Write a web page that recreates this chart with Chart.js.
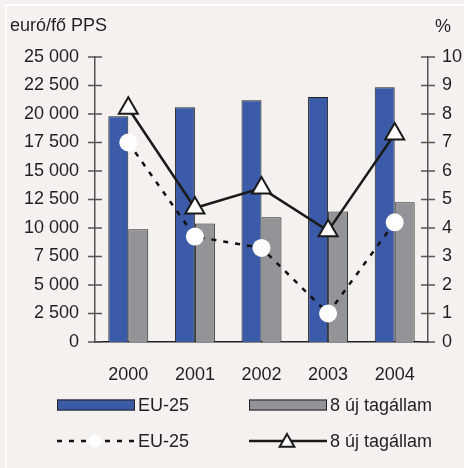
<!DOCTYPE html>
<html>
<head>
<meta charset="utf-8">
<script src="https://cdn.jsdelivr.net/npm/chart.js@4.4.1/dist/chart.umd.min.js"></script>
<style>
  html, body { margin: 0; padding: 0; background: #f4f1ee; }
  .frame { position: absolute; left: 0; top: 0; width: 464px; height: 468px; }
  .frame::before { content: ''; position: absolute; left: 5px; top: 4px; right: 0; bottom: 0;
    border-top: 2px solid #fff; border-left: 2px solid #fff; }
  canvas { position: absolute; left: 0; top: 0; }
</style>
</head>
<body>
<div class="frame"><canvas id="chart" width="464" height="468"></canvas></div>
<script>
// adatok
const years = ['2000', '2001', '2002', '2003', '2004'];
const eu25Pps = [19800, 20600, 21200, 21500, 22350];
const newMembersPps = [9900, 10400, 10950, 11450, 12250];
const eu25Pct = [7.0, 3.7, 3.3, 1.0, 4.2];
const newMembersPct = [8.2, 4.7, 5.4, 3.9, 7.3];
const seriesNames = ['EU-25', '8 új tagállam'];
const leftTitle = 'euró/fő PPS';
const rightTitle = '%';

const FONT = '"Liberation Sans", Arial, sans-serif';
const FSIZE = 18;
const TEXT = '#231f20';

function fmt(v) {
    return String(v).replace(/\B(?=(\d{3})+(?!\d))/g, ' ');
}

// tick jelek, amelyek keresztezik a tengelyt
const tickMarks = {
    id: 'tickMarks',
    beforeDatasetsDraw(chart) {
        const ctx = chart.ctx;
        ctx.save();
        ctx.strokeStyle = '#555';
        ctx.lineWidth = 1.5;
        ['y', 'y1'].forEach(id => {
            const s = chart.scales[id];
            const x = id === 'y' ? s.right : s.left;
            s.ticks.forEach(t => {
                const y = s.getPixelForValue(t.value);
                ctx.beginPath();
                ctx.moveTo(x - 7, y);
                ctx.lineTo(x + 7, y);
                ctx.stroke();
            });
        });
        ctx.restore();
    }
};

// tengelycímek + jelmagyarázat
const extras = {
    id: 'extras',
    afterDraw(chart) {
        const ctx = chart.ctx;
        ctx.save();
        ctx.font = FSIZE + 'px ' + FONT;
        ctx.fillStyle = TEXT;
        ctx.textBaseline = 'middle';
        ctx.textAlign = 'left';
        ctx.fillText(leftTitle, 10, 26);
        ctx.fillText(rightTitle, 435, 27);

        const cols = [57, 249];
        const rows = [405, 441];
        chart.data.datasets.forEach((ds, i) => {
            const x0 = cols[i % 2];
            const y = rows[Math.floor(i / 2)];
            const w = 78;
            if (ds.type === 'bar') {
                ctx.fillStyle = ds.backgroundColor;
                ctx.fillRect(x0, y - 5.5, w, 11);
                ctx.strokeStyle = ds.borderColor;
                ctx.lineWidth = 1;
                ctx.strokeRect(x0 + 0.5, y - 5, w - 1, 10);
            } else {
                ctx.strokeStyle = ds.borderColor;
                ctx.lineWidth = ds.borderWidth;
                ctx.setLineDash(ds.borderDash || []);
                ctx.beginPath();
                ctx.moveTo(x0, y);
                ctx.lineTo(x0 + w, y);
                ctx.stroke();
                ctx.setLineDash([]);
                ctx.fillStyle = ds.pointBackgroundColor;
                ctx.strokeStyle = ds.pointBorderColor;
                ctx.lineWidth = ds.pointBorderWidth;
                Chart.helpers.drawPoint(ctx, {
                    pointStyle: ds.pointStyle,
                    radius: ds.pointStyle === 'circle' ? 6.5 : 8.5,
                    borderWidth: ds.pointBorderWidth
                }, x0 + 38, ds.pointStyle === 'circle' ? y : y + 1.5);
            }
            ctx.fillStyle = TEXT;
            ctx.fillText(ds.label, x0 + 81, y + 1);
        });
        ctx.restore();
    }
};

new Chart(document.getElementById('chart').getContext('2d'), {
    data: {
        labels: years,
        datasets: [
            {
                type: 'bar',
                label: seriesNames[0],
                data: eu25Pps,
                yAxisID: 'y',
                backgroundColor: '#3b5aa8',
                borderColor: '#222',
                borderWidth: 1,
                categoryPercentage: 0.6,
                barPercentage: 1.0,
                order: 2
            },
            {
                type: 'bar',
                label: seriesNames[1],
                data: newMembersPps,
                yAxisID: 'y',
                backgroundColor: '#939497',
                borderColor: '#222',
                borderWidth: 1,
                categoryPercentage: 0.6,
                barPercentage: 1.0,
                order: 2
            },
            {
                type: 'line',
                label: seriesNames[0],
                data: eu25Pct,
                yAxisID: 'y1',
                borderColor: '#111',
                borderWidth: 2.5,
                borderDash: [5, 7],
                pointStyle: 'circle',
                pointRadius: 9,
                pointBackgroundColor: '#fff',
                pointBorderColor: '#fff',
                pointBorderWidth: 0,
                order: 1
            },
            {
                type: 'line',
                label: seriesNames[1],
                data: newMembersPct,
                yAxisID: 'y1',
                borderColor: '#1a1a1a',
                borderWidth: 2.5,
                pointStyle: 'triangle',
                pointRadius: 11,
                pointBackgroundColor: '#fff',
                pointBorderColor: '#1a1a1a',
                pointBorderWidth: 2,
                order: 0
            }
        ]
    },
    options: {
        responsive: false,
        animation: false,
        devicePixelRatio: 1,
        layout: { padding: { top: 57, left: 0, right: 0, bottom: 0 } },
        plugins: {
            legend: { display: false },
            tooltip: { enabled: false }
        },
        scales: {
            x: {
                grid: { display: false, drawTicks: false },
                border: { color: '#222', width: 1.5 },
                ticks: { font: { family: FONT, size: FSIZE }, color: TEXT, padding: 22 },
                afterFit: s => { s.height = 126; }
            },
            y: {
                position: 'left',
                min: 0,
                max: 25000,
                grid: { display: false, drawTicks: false },
                border: { color: '#555', width: 1.5 },
                ticks: {
                    stepSize: 2500,
                    font: { family: FONT, size: FSIZE },
                    color: TEXT,
                    padding: 16,
                    callback: v => fmt(v)
                },
                afterFit: s => { s.width = 95; }
            },
            y1: {
                position: 'right',
                min: 0,
                max: 10,
                grid: { display: false, drawTicks: false },
                border: { color: '#555', width: 1.5 },
                ticks: {
                    stepSize: 1,
                    font: { family: FONT, size: FSIZE },
                    color: TEXT,
                    padding: 14
                },
                afterFit: s => { s.width = 36; }
            }
        }
    },
    plugins: [tickMarks, extras]
});
</script>
</body>
</html>
